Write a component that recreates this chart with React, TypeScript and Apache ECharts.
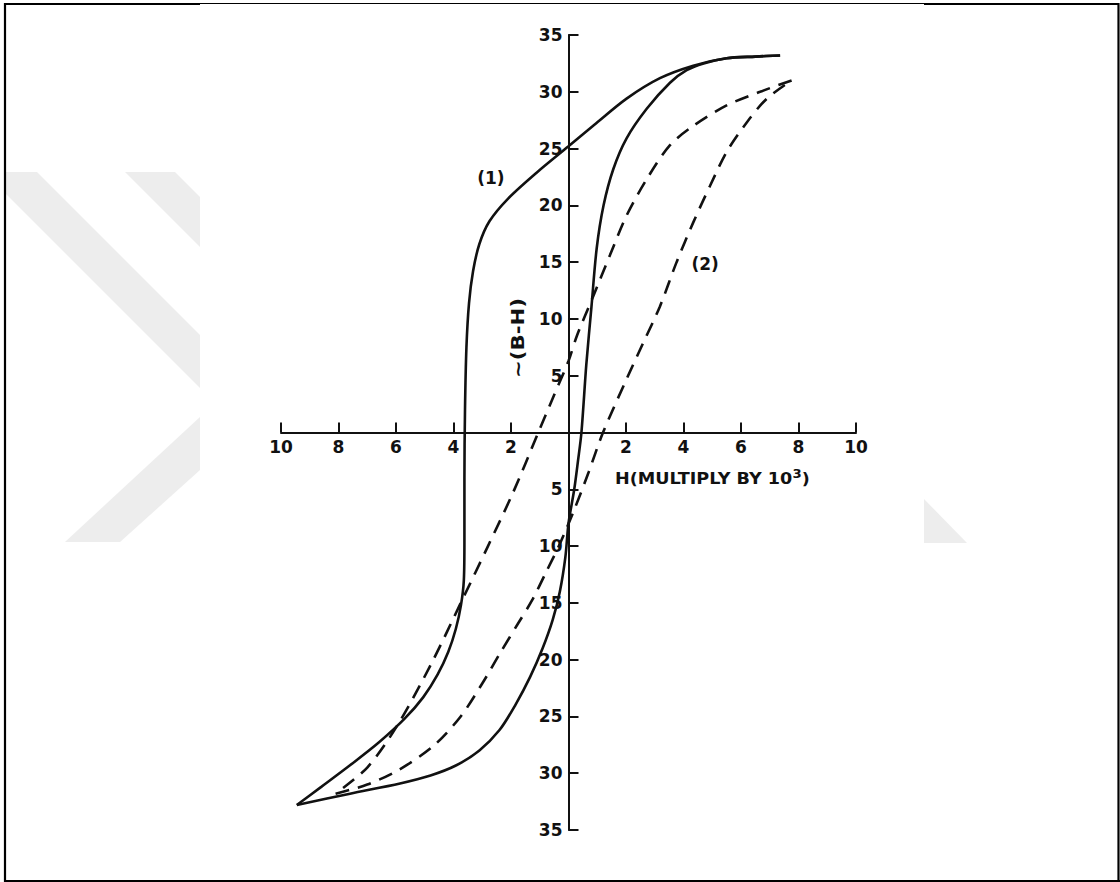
import React, { useEffect, useRef } from "react";
import * as echarts from "echarts";

// H values (x 10^3) against ~(B-H)
const loop1Descending: [number, number][] = [
  [7.36, 33.2], [6.5, 33.1], [5.5, 32.95], [4.34, 32.3], [3.18, 31.2], [2.02, 29.4],
  [0.9, 27.1], [0, 25.2], [-1.1, 22.9], [-2.1, 20.6], [-2.75, 18.6], [-3.1, 16.6],
  [-3.32, 14.2], [-3.46, 11.4], [-3.55, 7.5], [-3.6, 2.0], [-3.62, -4.0], [-3.62, -9.5],
  [-3.64, -13.0], [-3.74, -15.2], [-3.92, -17.3], [-4.18, -19.3], [-4.55, -21.3],
  [-5.05, -23.3], [-5.7, -25.2], [-6.6, -27.3], [-7.6, -29.3], [-8.6, -31.2], [-9.45, -32.8],
];

const loop1Ascending: [number, number][] = [
  [-9.45, -32.8], [-7.6, -31.8], [-5.86, -30.9], [-4.8, -30.2], [-3.9, -29.3],
  [-3.1, -28.0], [-2.4, -26.2], [-1.85, -24.0], [-1.33, -21.5], [-0.9, -19.0],
  [-0.55, -16.5], [-0.3, -14.0], [-0.11, -11.0], [0.0, -8.0], [0.2, -5.0], [0.33, -2.5],
  [0.45, 0], [0.62, 6.0], [0.8, 11.1], [0.98, 16.2], [1.22, 20.0], [1.56, 23.2],
  [2.02, 25.9], [2.72, 28.5], [3.53, 30.8], [4.11, 31.9], [4.7, 32.5], [5.5, 32.95],
  [6.5, 33.1], [7.36, 33.2],
];

const loop2Descending: [number, number][] = [
  [7.76, 31.0], [6.66, 30.0], [5.5, 28.8], [4.34, 27.0], [3.53, 25.3], [2.72, 22.3],
  [2.02, 19.1], [1.44, 15.6], [0.86, 12.0], [0.29, 8.5], [0, 6.3], [-0.5, 3.3], [-1.05, 0],
  [-1.93, -5.3], [-2.8, -10.0], [-3.67, -14.6], [-4.8, -20.5], [-5.98, -25.9],
  [-7.0, -29.5], [-8.1, -31.8],
];

const loop2Ascending: [number, number][] = [
  [-8.1, -31.8], [-7.0, -31.0], [-5.9, -29.7], [-4.7, -27.6], [-3.75, -25.0],
  [-3.0, -22.1], [-2.35, -19.3], [-1.75, -16.8], [-1.25, -14.7], [-0.8, -12.4],
  [-0.3, -9.8], [0.2, -6.8], [0.7, -3.5], [1.2, 0], [2.02, 4.7], [2.6, 7.9],
  [3.18, 11.1], [3.76, 15.0], [4.34, 18.5], [4.92, 21.7], [5.5, 24.7], [6.2, 27.3],
  [6.9, 29.4], [7.76, 31.0],
];

const curveTags: [number, number, string][] = [
  [-2.7, 22.4, "(1)"],
  [4.75, 14.8, "(2)"],
];

const hRange = { min: -10, max: 10, step: 2 };
const bRange = { min: -35, max: 35, step: 5 };

const xTitle = "H(MULTIPLY BY 10";
const xTitleSup = "3";
const yTitle = "~(B-H)";

const INK = "#111";
const FONT = "DejaVu Sans";
const SHADE = "#ededed";

// plot box in page pixels
const GRID = { left: 281, right: 264, top: 35, bottom: 52 };
const PAGE = { w: 1120, h: 882 };

export default function App() {
  const ref = useRef<HTMLDivElement>(null);

  useEffect(() => {
    if (!ref.current) return;
    const chart = echarts.init(ref.current, undefined, { renderer: "svg" });

    const tickLabel = (v: number) => (v === 0 ? "" : String(Math.abs(v)));

    // both ranges are symmetric, so the zero lines sit in the middle of the plot box
    const plotW = PAGE.w - GRID.left - GRID.right;
    const plotH = PAGE.h - GRID.top - GRID.bottom;
    const zeroFromLeft = (plotW * (0 - hRange.min)) / (hRange.max - hRange.min);
    const zeroFromBottom = (plotH * (0 - bRange.min)) / (bRange.max - bRange.min);

    const lineSeries = (name: string, data: [number, number][], dashed: boolean) => ({
      name,
      type: "line",
      data,
      smooth: 0.3,
      showSymbol: false,
      symbol: "none",
      silent: true,
      z: 3,
      lineStyle: {
        color: INK,
        width: 2.6,
        type: dashed ? [14, 9] : "solid",
        cap: "butt",
      },
    });

    const labelFont = {
      color: INK,
      fontFamily: FONT,
      fontSize: 17,
      fontWeight: "bold",
    };

    chart.setOption({
      animation: false,
      backgroundColor: "#ffffff",
      grid: { ...GRID, containLabel: false },
      xAxis: {
        type: "value",
        position: "bottom",
        offset: -zeroFromBottom,
        min: hRange.min,
        max: hRange.max,
        interval: hRange.step,
        splitLine: { show: false },
        axisLine: { onZero: false, lineStyle: { color: INK, width: 2 } },
        axisTick: { inside: true, length: 10, lineStyle: { color: INK, width: 2 } },
        axisLabel: { formatter: tickLabel, margin: 6, ...labelFont },
      },
      yAxis: {
        type: "value",
        position: "left",
        offset: -zeroFromLeft,
        min: bRange.min,
        max: bRange.max,
        interval: bRange.step,
        splitLine: { show: false },
        axisLine: { onZero: false, lineStyle: { color: INK, width: 2 } },
        axisTick: { inside: true, length: 10, lineStyle: { color: INK, width: 2 } },
        axisLabel: { formatter: tickLabel, margin: 6, ...labelFont },
      },
      series: [
        lineSeries("loop1-descending", loop1Descending, false),
        lineSeries("loop1-ascending", loop1Ascending, false),
        lineSeries("loop2-descending", loop2Descending, true),
        lineSeries("loop2-ascending", loop2Ascending, true),
        {
          name: "tags",
          type: "scatter",
          symbolSize: 1,
          silent: true,
          itemStyle: { color: "rgba(0,0,0,0)", opacity: 1 },
          data: curveTags.map(([h, b, t]) => ({ value: [h, b], name: t })),
          label: {
            show: true,
            position: "inside",
            formatter: (p: any) => p.name,
            textBorderWidth: 0,
            ...labelFont,
          },
        },
      ],
      graphic: [
        // faint background shapes
        { type: "polygon", z: -10, silent: true, shape: { points: [[5, 172], [37, 172], [200, 335], [200, 388], [5, 193]] }, style: { fill: SHADE } },
        { type: "polygon", z: -10, silent: true, shape: { points: [[125, 172], [175, 172], [200, 197], [200, 247]] }, style: { fill: SHADE } },
        { type: "polygon", z: -10, silent: true, shape: { points: [[200, 417], [200, 470], [120, 542], [65, 542]] }, style: { fill: SHADE } },
        { type: "polygon", z: -10, silent: true, shape: { points: [[924, 499], [924, 543], [967, 543]] }, style: { fill: SHADE } },
        // frame
        { type: "line", silent: true, shape: { x1: 5, y1: 4, x2: 200, y2: 4 }, style: { stroke: "#000", lineWidth: 2.2 } },
        { type: "line", silent: true, shape: { x1: 200, y1: 3.5, x2: 924, y2: 3.5 }, style: { stroke: "#000", lineWidth: 1.2 } },
        { type: "line", silent: true, shape: { x1: 924, y1: 4, x2: 1119, y2: 4 }, style: { stroke: "#000", lineWidth: 2.2 } },
        { type: "line", silent: true, shape: { x1: 5, y1: 3, x2: 5, y2: 882 }, style: { stroke: "#000", lineWidth: 2.2 } },
        { type: "line", silent: true, shape: { x1: 1118.5, y1: 3, x2: 1118.5, y2: 882 }, style: { stroke: "#000", lineWidth: 2.2 } },
        { type: "line", silent: true, shape: { x1: 4, y1: 881, x2: 1120, y2: 881 }, style: { stroke: "#000", lineWidth: 2.2 } },
        // axis titles
        {
          type: "text",
          silent: true,
          x: 615,
          y: 478,
          scaleX: 1.1,
          style: {
            text: `{a|${xTitle}}{s|${xTitleSup}}{a|)}`,
            verticalAlign: "middle",
            align: "left",
            rich: {
              a: { fontFamily: FONT, fontSize: 16, fontWeight: "bold", fill: INK, lineHeight: 20 },
              s: { fontFamily: FONT, fontSize: 12, fontWeight: "bold", fill: INK, lineHeight: 12, verticalAlign: "top" },
            },
          },
        },
        {
          type: "text",
          silent: true,
          x: 518,
          y: 338,
          rotation: Math.PI / 2,
          scaleX: 1.25,
          style: {
            text: yTitle,
            align: "center",
            verticalAlign: "middle",
            fontFamily: FONT,
            fontSize: 17,
            fontWeight: "bold",
            fill: INK,
          },
        },
      ],
    });

    return () => chart.dispose();
  }, []);

  return (
    <div
      ref={ref}
      style={{ position: "absolute", left: 0, top: 0, width: PAGE.w, height: PAGE.h, background: "#fff" }}
    />
  );
}
